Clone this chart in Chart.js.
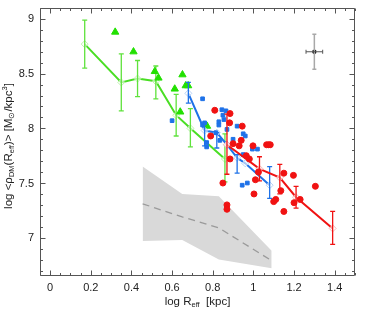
<!DOCTYPE html>
<html>
<head>
<meta charset="utf-8">
<script src="https://cdn.jsdelivr.net/npm/chart.js@4/dist/chart.umd.min.js"></script>
<style>
    html, body { margin: 0; padding: 0; background: #fff; }
</style>
</head>
<body>
<canvas id="DensityChart" width="374" height="318"></canvas>
<script>
// tick labels
const x_ticks = [0, 0.2, 0.4, 0.6, 0.8, 1, 1.2, 1.4];
const y_ticks = [7, 7.5, 8, 8.5, 9];

// green binned line (diamonds) with error bars
const green_x = [0.17, 0.35, 0.43, 0.52, 0.62, 0.69, 0.86];
const green_y = [8.77, 8.42, 8.455, 8.43, 8.12, 8.0, 7.72];
const green_lo = [8.55, 8.16, 8.29, 8.27, 7.93, 7.83, 7.51];
const green_hi = [8.99, 8.68, 8.62, 8.57, 8.31, 8.18, 7.95];

// green triangles
const tri_x = [0.32, 0.41, 0.515, 0.533, 0.613, 0.651, 0.667, 0.679, 0.64, 0.772];
const tri_y = [8.88, 8.70, 8.52, 8.46, 8.36, 8.49, 8.39, 8.39, 8.15, 8.02];

// blue binned line
const blue_x = [0.68, 0.76, 0.82, 0.87, 0.92, 0.96, 1.08];
const blue_y = [8.32, 7.98, 7.96, 7.85, 7.73, 7.68, 7.48];
const blue_lo = [8.23, 7.84, 7.82, null, 7.59, null, 7.36];
const blue_hi = [8.42, 8.05, 7.96, null, 7.76, null, 7.65];

// blue squares
const sq_x = [0.60, 0.75, 0.75, 0.76, 0.77, 0.77, 0.815, 0.83, 0.83, 0.845, 0.85, 0.855,
    0.865, 0.87, 0.835, 0.90, 0.92, 0.95, 0.96, 0.95, 0.995, 1.02, 0.945, 0.97];
const sq_y = [8.07, 8.27, 8.03, 8.05, 7.87, 7.83, 7.96, 8.06, 8.03, 8.17, 8.12, 8.08,
    8.16, 7.99, 7.89, 7.90, 8.02, 7.95, 7.93, 7.76, 7.81, 7.81, 7.48, 7.50];

// red binned line
const red_x = [0.87, 1.03, 1.13, 1.21, 1.39];
const red_y = [7.85, 7.63, 7.55, 7.37, 7.085];
const red_lo = [7.58, 7.52, 7.40, 7.27, 6.94];
const red_hi = [8.13, 7.74, 7.67, 7.47, 7.24];

// red dots
const dot_x = [0.81, 0.885, 0.883, 0.79, 0.885, 0.85, 0.87, 0.87, 0.945, 0.90, 0.94, 0.965,
    0.98, 0.998, 1.01, 1.025, 1.003, 1.065, 1.075, 1.083, 1.15, 1.135, 1.10, 1.11,
    1.15, 1.197, 1.20, 1.23, 1.305, 0.93];
const dot_y = [8.165, 8.135, 8.05, 7.93, 7.72, 7.50, 7.30, 7.26, 8.02, 7.86, 7.89, 7.75,
    7.72, 7.84, 7.53, 7.60, 7.40, 7.85, 7.85, 7.85, 7.59, 7.43, 7.33, 7.35,
    7.24, 7.57, 7.32, 7.35, 7.47, 7.84];

// grey simulation band + dashed median
const band_x = [0.455, 0.65, 0.83, 1.09];
const band_hi = [7.65, 7.40, 7.38, 6.88];
const band_lo = [6.97, 6.98, 6.80, 6.72];
const sim_y = [7.31, 7.19, 7.09, 6.79];

// typical error point
const ref_x = [1.30];
const ref_y = [8.70];
const ref_xerr = [0.041];
const ref_yerr = [0.16];

const FONT = "'Liberation Sans', Arial, sans-serif";
const green = '#4ade24';
const blue = '#1f72e8';
const red = '#f01212';

function pts(xs, ys) {
    return xs.map((x, i) => ({ x: x, y: ys[i] }));
}

function fmt(v) {
    return String(+v.toFixed(1));
}

const errorBars = {
    id: 'errorBars',
    afterDatasetDraw(chart, args) {
        const ds = chart.data.datasets[args.index];
        const eb = ds.errBars;
        if (!eb) return;
        const ctx = chart.ctx;
        const sx = chart.scales.x, sy = chart.scales.y;
        ctx.save();
        eb.xs.forEach((xv, i) => {
            const px = sx.getPixelForValue(xv);
            if (eb.lo && eb.lo[i] != null) {
                const p1 = sy.getPixelForValue(eb.lo[i]);
                const p2 = sy.getPixelForValue(eb.hi[i]);
                ctx.strokeStyle = eb.color;
                ctx.lineWidth = eb.width || 1.3;
                ctx.beginPath();
                ctx.moveTo(px, p1); ctx.lineTo(px, p2);
                ctx.moveTo(px - eb.cap, p1); ctx.lineTo(px + eb.cap, p1);
                ctx.moveTo(px - eb.cap, p2); ctx.lineTo(px + eb.cap, p2);
                ctx.stroke();
            }
            if (eb.xerr) {
                const py = sy.getPixelForValue(eb.ys[i]);
                const q1 = sx.getPixelForValue(xv - eb.xerr[i]);
                const q2 = sx.getPixelForValue(xv + eb.xerr[i]);
                ctx.strokeStyle = eb.xcolor;
                ctx.lineWidth = 1;
                ctx.beginPath();
                ctx.moveTo(q1, py); ctx.lineTo(q2, py);
                ctx.moveTo(q1, py - eb.cap); ctx.lineTo(q1, py + eb.cap);
                ctx.moveTo(q2, py - eb.cap); ctx.lineTo(q2, py + eb.cap);
                ctx.stroke();
            }
        });
        ctx.restore();
    }
};

// frame with inward ticks on all four sides, plus tick labels
const frameTicks = {
    id: 'frameTicks',
    afterDraw(chart) {
        const ctx = chart.ctx;
        const a = chart.chartArea;
        const sx = chart.scales.x, sy = chart.scales.y;
        const L = Math.round(a.left) + 0.5, R = Math.round(a.right) - 0.5;
        const T = Math.round(a.top) + 0.5, B = Math.round(a.bottom) - 0.5;
        ctx.save();
        ctx.strokeStyle = '#555';
        ctx.lineWidth = 1;
        ctx.beginPath();
        ctx.rect(L, T, R - L, B - T);
        for (let i = -1; i <= 30; i++) {
            const px = Math.round(sx.getPixelForValue(i * 0.05)) + 0.5;
            const len = (i % 4 === 0) ? 5 : 2.5;
            ctx.moveTo(px, B); ctx.lineTo(px, B - len);
            ctx.moveTo(px, T); ctx.lineTo(px, T + len);
        }
        for (let i = 67; i <= 91; i++) {
            const py = Math.round(sy.getPixelForValue(i / 10)) + 0.5;
            const len = (i % 5 === 0) ? 5 : 2.5;
            ctx.moveTo(L, py); ctx.lineTo(L + len, py);
            ctx.moveTo(R, py); ctx.lineTo(R - len, py);
        }
        ctx.stroke();

        ctx.fillStyle = '#222';
        ctx.font = '11px ' + FONT;
        ctx.textBaseline = 'middle';
        ctx.textAlign = 'center';
        x_ticks.forEach(v => ctx.fillText(fmt(v), sx.getPixelForValue(v), a.bottom + 11.5));
        ctx.textAlign = 'right';
        y_ticks.forEach(v => ctx.fillText(fmt(v), a.left - 6, sy.getPixelForValue(v) + 0.5));
        ctx.restore();
    }
};

function drawRich(ctx, parts, cx, cy, angle) {
    ctx.save();
    ctx.translate(cx, cy);
    ctx.rotate(angle);
    ctx.textBaseline = 'middle';
    ctx.textAlign = 'left';
    ctx.fillStyle = '#222';
    let total = 0;
    parts.forEach(p => {
        ctx.font = (p[1] === 0 ? 11.5 : 7.5) + 'px ' + FONT;
        p.w = ctx.measureText(p[0]).width;
        total += p.w;
    });
    let x = -total / 2;
    parts.forEach(p => {
        ctx.font = (p[1] === 0 ? 11.5 : 7.5) + 'px ' + FONT;
        const dy = p[1] === 1 ? 3 : (p[1] === -1 ? -4 : 0);
        ctx.fillText(p[0], x, dy);
        x += p.w;
    });
    ctx.restore();
}

const axisTitles = {
    id: 'axisTitles',
    afterDraw(chart) {
        const ctx = chart.ctx;
        const a = chart.chartArea;
        drawRich(ctx, [['log R', 0], ['eff', 1], ['  [kpc]', 0]],
            (a.left + a.right) / 2, 302, 0);
        drawRich(ctx, [['log <', 0], ['\u03c1', 0], ['DM', 1], ['(R', 0], ['eff', 1],
            [')> [M', 0], ['\u2299', 1], ['/kpc', 0], ['3', -1], [']', 0]],
            9, 146, -Math.PI / 2);
    }
};

const datasets = [
    {
        data: pts(band_x, band_hi), showLine: true, pointRadius: 0,
        borderColor: 'rgba(0,0,0,0)', borderWidth: 1,
        fill: '+1', backgroundColor: '#d9d9d9', order: 10
    },
    {
        data: pts(band_x, band_lo), showLine: true, pointRadius: 0,
        borderColor: 'rgba(0,0,0,0)', borderWidth: 1, fill: false, order: 10
    },
    {
        data: pts(band_x, sim_y), showLine: true, pointRadius: 0,
        borderColor: '#9a9a9a', borderWidth: 1.3, borderDash: [7, 5], order: 8
    },
    {
        data: pts(green_x, green_y), showLine: true, borderColor: green, borderWidth: 2,
        pointStyle: 'rectRot', pointRadius: 3.5, pointBorderWidth: 1,
        pointBorderColor: '#bdf2ad', pointBackgroundColor: 'rgba(255,255,255,0.6)',
        errBars: { xs: green_x, lo: green_lo, hi: green_hi, color: '#5fe23c', cap: 2.5 },
        order: 6
    },
    {
        data: pts(tri_x, tri_y), pointStyle: 'triangle', pointRadius: 4.2,
        pointBackgroundColor: '#22e000', pointBorderColor: '#22e000', order: 5
    },
    {
        data: pts(blue_x, blue_y), showLine: true, borderColor: blue, borderWidth: 2,
        pointStyle: 'rectRot', pointRadius: 3.5, pointBorderWidth: 1,
        pointBorderColor: '#b6d2f6', pointBackgroundColor: 'rgba(255,255,255,0.6)',
        errBars: { xs: blue_x, lo: blue_lo, hi: blue_hi, color: blue, cap: 2.5 },
        order: 4
    },
    {
        data: pts(sq_x, sq_y), pointStyle: 'rect', pointRadius: 2.6,
        pointBackgroundColor: blue, pointBorderColor: blue, order: 3
    },
    {
        data: pts(red_x, red_y), showLine: true, borderColor: red, borderWidth: 2,
        pointStyle: 'rectRot', pointRadius: 3.5, pointBorderWidth: 1,
        pointBorderColor: '#f8b6b6', pointBackgroundColor: 'rgba(255,255,255,0.6)',
        errBars: { xs: red_x, lo: red_lo, hi: red_hi, color: red, cap: 2.5 },
        order: 2
    },
    {
        data: pts(dot_x, dot_y), pointStyle: 'circle', pointRadius: 3,
        pointBackgroundColor: red, pointBorderColor: red, order: 1
    },
    {
        data: pts(ref_x, ref_y), pointStyle: 'rect', pointRadius: 2,
        pointBackgroundColor: '#000', pointBorderColor: '#000',
        errBars: {
            xs: ref_x, ys: ref_y,
            lo: ref_y.map((v, i) => v - ref_yerr[i]), hi: ref_y.map((v, i) => v + ref_yerr[i]),
            xerr: ref_xerr, color: '#a8a8a8', xcolor: '#555', cap: 2, width: 1.5
        },
        order: 0
    }
];

const configScatter = {
    type: 'scatter',
    data: { datasets: datasets },
    options: {
        responsive: false,
        animation: false,
        devicePixelRatio: 1,
        layout: { padding: { left: 0, right: 19, top: 8, bottom: 0 } },
        plugins: {
            legend: { display: false },
            tooltip: { enabled: false }
        },
        scales: {
            x: {
                type: 'linear', min: -0.05, max: 1.5,
                grid: { display: false }, border: { display: false },
                ticks: { display: false },
                afterFit: s => { s.height = 42; s.paddingLeft = 0; s.paddingRight = 0; }
            },
            y: {
                type: 'linear', min: 6.65, max: 9.1,
                grid: { display: false }, border: { display: false },
                ticks: { display: false },
                afterFit: s => { s.width = 40; s.paddingTop = 0; s.paddingBottom = 0; }
            }
        }
    },
    plugins: [errorBars, frameTicks, axisTitles]
};

const DensityChart = new Chart(
    document.getElementById('DensityChart'),
    configScatter
);
</script>
</body>
</html>
